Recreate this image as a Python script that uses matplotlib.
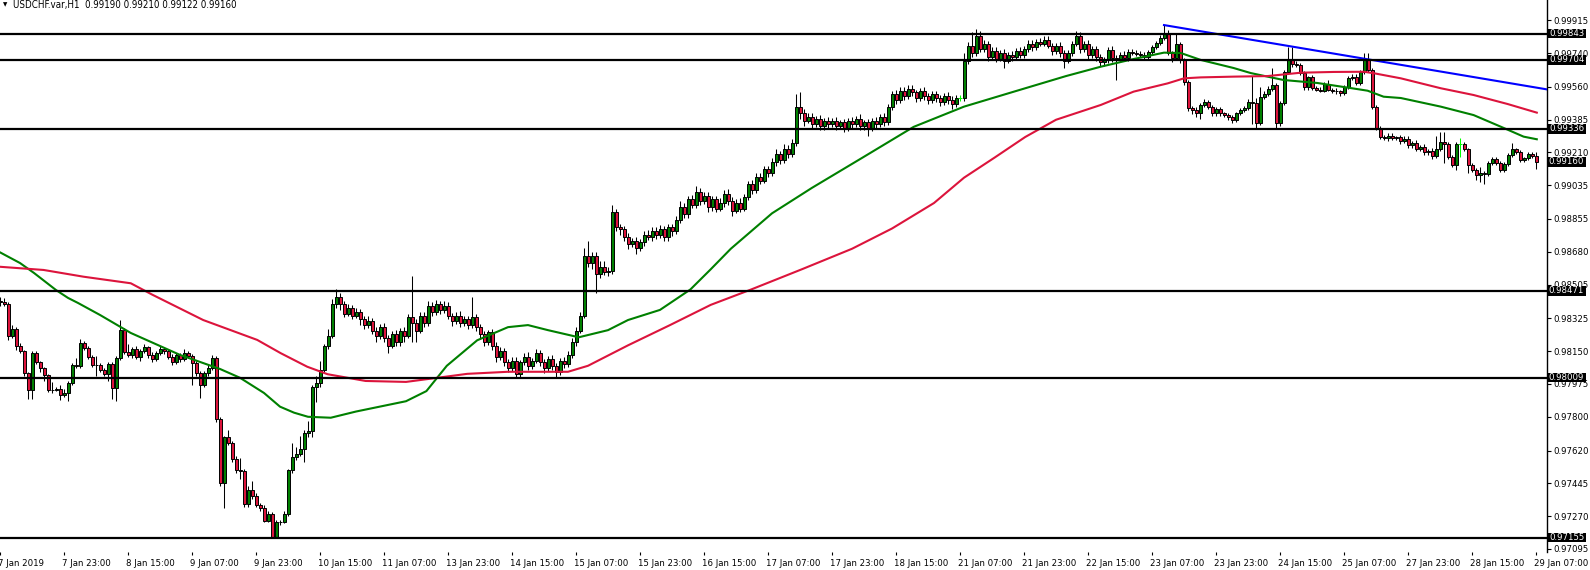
import numpy as np
import matplotlib
matplotlib.use("Agg")
import matplotlib.pyplot as plt
from matplotlib import font_manager as fm
from matplotlib.patches import Rectangle
import matplotlib.transforms as mtransforms

# USDCHF H1 candles, prices in 1e-5 units (open of each bar = previous close)
first_open = 98420
close_pts = [
    98410, 98400, 98230, 98268, 98176, 98150, 98033, 97943, 98139, 98094,
    98059, 98022, 97943, 97945, 97948, 97917, 97925, 97982, 98076, 98070,
    98193, 98165, 98120, 98076, 98075, 98050, 98030, 98080, 97954, 98112,
    98262, 98147, 98130, 98160, 98120, 98150, 98170, 98130, 98110, 98140,
    98160, 98150, 98120, 98090, 98130, 98110, 98140, 98126, 98087, 98033,
    97970, 98033, 98060, 98113, 97788, 97449, 97693, 97661, 97576, 97514,
    97510, 97335, 97412, 97375, 97330, 97313, 97246, 97280, 97155, 97237,
    97240, 97280, 97514, 97588, 97600, 97627, 97716, 97725, 97960, 97980,
    98050, 98175, 98230, 98400, 98440, 98400, 98350, 98380, 98340, 98360,
    98320, 98290, 98310, 98260, 98230, 98280, 98220, 98180, 98240, 98200,
    98260, 98230, 98330, 98300, 98260, 98340, 98300, 98390, 98360, 98400,
    98370, 98390, 98340, 98310, 98340, 98300, 98320, 98290, 98330, 98280,
    98240, 98200, 98250, 98180, 98120, 98150, 98090, 98060, 98100, 98030,
    98090, 98120, 98070, 98100, 98140, 98090, 98060, 98110, 98070, 98040,
    98100, 98080, 98130, 98200, 98260, 98340, 98660, 98620, 98660, 98560,
    98600, 98570, 98580, 98890, 98810, 98800, 98760, 98720, 98740, 98700,
    98730, 98770, 98760, 98790, 98770, 98800, 98760, 98810, 98790, 98850,
    98920, 98880, 98960, 98930, 99000, 98950, 98980, 98920, 98960, 98910,
    98940, 98990, 98950, 98900, 98940, 98910, 98970, 99040, 99010, 99080,
    99060, 99120, 99100, 99160, 99200, 99170, 99230, 99200, 99260, 99450,
    99420, 99380, 99400, 99360, 99390, 99350, 99380, 99360, 99380, 99350,
    99370, 99340, 99380, 99360, 99390, 99350, 99370, 99340, 99380, 99360,
    99400, 99370, 99450, 99520, 99490, 99540, 99510, 99550, 99530, 99500,
    99540, 99510, 99490, 99520, 99500, 99480, 99510, 99490, 99470, 99500,
    99500, 99700, 99780, 99740, 99830, 99760, 99790, 99720, 99750, 99710,
    99740, 99700, 99730, 99720, 99750, 99730, 99760, 99790, 99770, 99800,
    99790, 99810, 99780, 99750, 99780, 99740, 99700, 99740, 99790, 99830,
    99760, 99790, 99730, 99760, 99720, 99690, 99703, 99756, 99712, 99705,
    99730, 99715, 99745, 99740, 99735, 99730, 99720, 99747, 99774, 99793,
    99820, 99847, 99740, 99713, 99790, 99703, 99587, 99447, 99436, 99420,
    99463, 99480, 99454, 99420, 99440, 99418, 99410, 99400, 99383, 99418,
    99436, 99445, 99480, 99475, 99367, 99507, 99520, 99550, 99570, 99365,
    99472, 99640, 99703, 99680, 99676, 99632, 99560, 99610, 99552, 99545,
    99540, 99575, 99545, 99540, 99535, 99525, 99560, 99607, 99614, 99580,
    99640, 99703, 99650, 99454, 99340, 99294, 99285, 99300, 99285, 99290,
    99270, 99280, 99250, 99260, 99230, 99240, 99210, 99220, 99190, 99230,
    99267, 99255, 99187, 99143, 99255, 99255, 99226, 99143, 99116, 99090,
    99100, 99095, 99155, 99173, 99155, 99116, 99150, 99196, 99226, 99214,
    99170, 99178, 99200, 99190, 99160,
]
upper_wick = [
    20, 25, 10, 20, 10, 15, 5, 7, 10, 10,
    6, 5, 5, 40, 10, 20, 25, 10, 10, 35,
    22, 10, 10, 10, 50, 10, 10, 10, 10, 10,
    55, 10, 40, 10, 15, 10, 20, 10, 15, 10,
    15, 10, 10, 15, 10, 10, 20, 10, 10, 13,
    10, 12, 20, 17, 12, 12, 7, 37, 9, 14,
    66, 13, 18, 48, 20, 10, 17, 20, 10, 13,
    10, 20, 6, 72, 40, 73, 14, 55, 10, 40,
    50, 15, 40, 30, 40, 20, 20, 20, 15, 20,
    15, 15, 30, 15, 20, 15, 20, 15, 20, 25,
    15, 20, 20, 220, 20, 20, 20, 30, 20, 25,
    20, 30, 20, 15, 20, 25, 20, 20, 110, 20,
    15, 20, 15, 20, 20, 20, 15, 20, 20, 20,
    15, 20, 25, 15, 20, 15, 20, 15, 20, 15,
    15, 20, 20, 20, 20, 20, 40, 80, 20, 20,
    30, 30, 20, 40, 20, 20, 15, 20, 15, 20,
    20, 20, 25, 20, 20, 25, 20, 20, 20, 20,
    30, 20, 20, 25, 30, 20, 20, 20, 20, 20,
    25, 20, 25, 20, 20, 25, 20, 20, 25, 20,
    20, 20, 20, 20, 30, 20, 25, 20, 20, 70,
    80, 20, 20, 20, 15, 20, 15, 20, 15, 20,
    15, 20, 15, 20, 15, 25, 15, 20, 15, 20,
    15, 20, 20, 20, 25, 20, 20, 20, 20, 15,
    15, 20, 15, 15, 20, 15, 15, 20, 20, 15,
    15, 40, 20, 70, 40, 30, 20, 15, 20, 20,
    15, 20, 15, 20, 15, 20, 15, 20, 20, 15,
    20, 20, 20, 15, 15, 20, 15, 15, 15, 30,
    20, 15, 20, 15, 20, 15, 15, 15, 20, 15,
    15, 20, 15, 15, 15, 15, 18, 10, 10, 10,
    15, 42, 18, 10, 55, 10, 10, 10, 10, 15,
    10, 15, 10, 10, 10, 10, 10, 10, 10, 10,
    10, 10, 15, 140, 25, 53, 15, 15, 90, 10,
    10, 10, 71, 71, 15, 10, 10, 10, 15, 10,
    15, 10, 20, 10, 15, 10, 10, 10, 15, 15,
    10, 35, 37, 10, 10, 10, 10, 15, 15, 10,
    15, 15, 15, 10, 15, 10, 15, 10, 15, 70,
    50, 53, 10, 10, 10, 30, 10, 10, 10, 10,
    34, 10, 10, 10, 10, 10, 10, 10, 34, 10,
    10, 10, 10, 10, 20,
]
lower_wick = [
    20, 10, 20, 10, 20, 10, 13, 50, 50, 14,
    20, 30, 13, 15, 10, 27, 10, 40, 10, 10,
    10, 10, 10, 10, 55, 10, 15, 40, 60, 70,
    10, 10, 10, 15, 10, 20, 10, 15, 20, 10,
    10, 15, 10, 15, 10, 20, 10, 10, 117, 13,
    70, 10, 18, 10, 18, 19, 135, 11, 16, 14,
    40, 15, 15, 15, 10, 13, 6, 6, 0, 0,
    15, 7, 10, 14, 20, 10, 67, 25, 35, 80,
    20, 10, 15, 10, 20, 30, 20, 15, 20, 15,
    30, 20, 15, 20, 30, 15, 20, 40, 15, 20,
    20, 30, 10, 100, 60, 15, 20, 15, 20, 15,
    20, 15, 20, 25, 15, 20, 15, 20, 15, 20,
    25, 20, 15, 25, 30, 15, 20, 20, 15, 23,
    20, 15, 20, 15, 15, 20, 25, 15, 20, 30,
    15, 20, 15, 15, 20, 15, 15, 20, 30, 100,
    20, 15, 20, 20, 20, 30, 20, 25, 15, 30,
    15, 20, 15, 20, 20, 15, 20, 20, 25, 15,
    15, 20, 20, 15, 15, 20, 15, 30, 20, 20,
    15, 20, 20, 30, 15, 20, 15, 15, 20, 15,
    20, 15, 20, 15, 20, 20, 15, 20, 15, 15,
    30, 30, 15, 20, 15, 20, 20, 20, 15, 20,
    15, 20, 15, 20, 15, 20, 20, 40, 15, 20,
    15, 20, 15, 15, 20, 15, 20, 15, 20, 20,
    15, 20, 20, 15, 20, 25, 15, 20, 30, 20,
    15, 15, 20, 20, 15, 15, 15, 20, 15, 20,
    15, 40, 15, 20, 15, 15, 15, 15, 20, 15,
    15, 15, 15, 20, 15, 20, 40, 15, 15, 15,
    20, 15, 20, 15, 20, 20, 20, 15, 20, 110,
    15, 20, 15, 10, 10, 10, 10, 10, 10, 10,
    10, 10, 10, 20, 10, 15, 15, 15, 20, 20,
    34, 10, 15, 15, 15, 15, 10, 15, 15, 10,
    10, 10, 10, 115, 27, 10, 10, 10, 10, 27,
    15, 10, 10, 15, 10, 10, 15, 15, 10, 10,
    10, 10, 10, 15, 15, 15, 10, 10, 10, 10,
    10, 10, 10, 10, 10, 15, 10, 15, 10, 10,
    15, 10, 15, 15, 15, 10, 15, 15, 15, 10,
    10, 103, 10, 10, 27, 68, 10, 41, 10, 27,
    37, 55, 10, 10, 10, 10, 10, 10, 10, 10,
    10, 10, 10, 10, 38,
]

# moving averages (bar index, price in 1e-5)
ma_fast_x = [0, 5, 8.5, 14, 17, 19.5, 25, 32.7, 45, 55, 60, 66, 70, 73.5, 77, 82.7, 89,
             101.5, 106.6, 111.7, 119.3, 127, 132, 137, 144.7, 152, 157, 165, 172.6,
             177.7, 182.7, 193, 203, 215.7, 228.4, 241, 253.8, 266.5, 275.2, 283.4, 291,
             295.2, 300.2, 308.4, 312.7, 316.9, 320.9, 329.4, 337.7, 341.9, 345.9, 350.2,
             360.2, 368.4, 375.2, 380.9, 384.2]
ma_fast_y = [98677, 98620, 98567, 98476, 98434, 98407, 98343, 98247, 98130, 98055, 98008,
             97927, 97854, 97822, 97800, 97795, 97828, 97883, 97937, 98072, 98208, 98278,
             98289, 98262, 98224, 98262, 98316, 98370, 98479, 98587, 98696, 98885, 99021,
             99183, 99346, 99454, 99536, 99617, 99667, 99708, 99742, 99740, 99703, 99660,
             99633, 99614, 99596, 99580, 99553, 99539, 99507, 99500, 99454, 99409, 99347,
             99294, 99280]
ma_slow_x = [0, 10.9, 20.9, 32.7, 38, 50.8, 64.3, 70.2, 76.8, 81.9, 91.4, 101.5, 109,
             116.8, 127, 142, 147, 157, 167.5, 177.7, 187.8, 200.5, 213, 223, 233.5, 241,
             248.7, 256.3, 264, 275.2, 283.4, 291.9, 296, 300.2, 308.4, 316.9, 325.2,
             333.4, 341, 343.5, 350.2, 360.2, 368.4, 376.9, 384.2]
ma_slow_y = [98600, 98583, 98547, 98512, 98452, 98316, 98210, 98139, 98067, 98027, 97991,
             97986, 98007, 98029, 98040, 98040, 98072, 98181, 98289, 98397, 98479, 98587,
             98696, 98804, 98940, 99075, 99183, 99292, 99384, 99463, 99534, 99578, 99605,
             99610, 99614, 99617, 99635, 99639, 99640, 99632, 99605, 99552, 99516, 99468,
             99422]

trend_x = [291, 386.75]
trend_y = [99889, 99546]

levels = [0.99843, 0.99704, 0.99336, 0.98471, 0.98009, 0.97155]
last_price = 0.99160

price_ticks = [0.99915, 0.99740, 0.99560, 0.99385, 0.99210, 0.99035, 0.98855, 0.98680,
               0.98505, 0.98325, 0.98150, 0.97975, 0.97800, 0.97620, 0.97445, 0.97270,
               0.97095]
time_labels = ["7 Jan 2019", "7 Jan 23:00", "8 Jan 15:00", "9 Jan 07:00", "9 Jan 23:00",
               "10 Jan 15:00", "11 Jan 07:00", "13 Jan 23:00", "14 Jan 15:00",
               "15 Jan 07:00", "15 Jan 23:00", "16 Jan 15:00", "17 Jan 07:00",
               "17 Jan 23:00", "18 Jan 15:00", "21 Jan 07:00", "21 Jan 23:00",
               "22 Jan 15:00", "23 Jan 07:00", "23 Jan 23:00", "24 Jan 15:00",
               "25 Jan 07:00", "27 Jan 23:00", "28 Jan 15:00", "29 Jan 07:00"]
title = "USDCHF.var,H1  0.99190 0.99210 0.99122 0.99160"

# font: something close to Tahoma
fp = fm.FontProperties(family="DejaVu Sans", stretch="condensed")
if "Condensed" in fm.findfont(fp):
    plt.rcParams["font.family"] = "DejaVu Sans"
    plt.rcParams["font.stretch"] = "condensed"
else:
    plt.rcParams["font.family"] = "Liberation Sans"
FS = 6.8

W, H = 1590, 570
fig = plt.figure(figsize=(W / 100, H / 100), dpi=100)
ax = fig.add_axes([0, 18 / H, 1547 / W, 552 / H])

c_int = np.array(close_pts)
o_int = np.concatenate([[first_open], c_int[:-1]])
closes = c_int / 1e5
opens = o_int / 1e5
highs = np.maximum(opens, closes) + np.array(upper_wick) / 1e5
lows = np.minimum(opens, closes) - np.array(lower_wick) / 1e5
idx = np.arange(len(closes))
up = c_int > o_int
dn = c_int < o_int
flat = c_int == o_int

ax.vlines(idx[~flat], lows[~flat], highs[~flat], color="black", lw=0.75, zorder=2)
ax.bar(idx[up], closes[up] - opens[up], bottom=opens[up], width=0.75,
       color="#008000", edgecolor="black", linewidth=0.7, zorder=3)
ax.bar(idx[dn], closes[dn] - opens[dn], bottom=opens[dn], width=0.75,
       color="#DC143C", edgecolor="black", linewidth=0.7, zorder=3)
ax.vlines(idx[flat], lows[flat], highs[flat], color="#00FF00", lw=0.75, zorder=3)
ax.hlines(closes[flat], idx[flat] - 0.5, idx[flat] + 0.5, color="#00FF00", lw=0.75, zorder=3)

ax.plot(ma_fast_x, np.array(ma_fast_y) / 1e5, color="#008000", lw=1.5, zorder=4)
ax.plot(ma_slow_x, np.array(ma_slow_y) / 1e5, color="#DC143C", lw=1.5, zorder=4)
ax.plot(trend_x, np.array(trend_y) / 1e5, color="#0000FF", lw=1.5, zorder=5)

for lv in levels:
    ax.axhline(lv, color="black", lw=1.6, zorder=5)

ax.set_xlim(0, 386.75)
ax.set_ylim(0.970789, 1.000227)

for s in ["left", "top", "bottom"]:
    ax.spines[s].set_visible(False)
ax.spines["right"].set_linewidth(1.0)

ax.yaxis.tick_right()
ax.set_yticks(price_ticks)
ax.set_yticklabels(["%.5f" % p for p in price_ticks])
ax.tick_params(axis="y", direction="out", length=3, width=0.8, pad=1.5, labelsize=FS)

ax.set_xticks(np.arange(len(time_labels)) * 16)
ax.set_xticklabels(time_labels)
ax.tick_params(axis="x", direction="out", length=2.5, width=0.8, pad=2.5, labelsize=FS)
shift = mtransforms.ScaledTranslation(-2 / 100, 0, fig.dpi_scale_trans)
for lbl in ax.get_xticklabels():
    lbl.set_horizontalalignment("left")
    lbl.set_transform(lbl.get_transform() + shift)

# black price boxes on the right scale
tr = mtransforms.blended_transform_factory(ax.transAxes, ax.transData)
box_w = 39 / 1547
box_h = 9.5 * 5.333e-5
for p in levels + [last_price]:
    ax.add_patch(Rectangle((1.0, p - box_h / 2), box_w, box_h, transform=tr,
                           facecolor="black", edgecolor="none", clip_on=False, zorder=10))
    ax.text(1.0 + box_w / 2, p, "%.5f" % p, transform=tr, ha="center", va="center",
            color="white", fontsize=FS, zorder=11, clip_on=False)

fig.text(3 / W, 1 - 5 / H, "\u25bc", fontsize=4.5, va="center", ha="left")
fig.text(13 / W, 1 - 5 / H, title, fontsize=FS + 0.2, va="center", ha="left")

fig.savefig("out.png", dpi=100)
